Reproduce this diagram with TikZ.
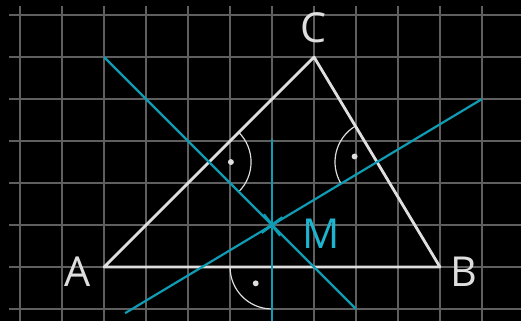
\documentclass[tikz,border=0pt]{standalone}
\usepackage{fontspec}
\setmainfont{Open Sans}
\usepackage{tikz}
\usetikzlibrary{positioning}
\definecolor{gridgray}{RGB}{95,95,95}
\definecolor{sidewhite}{RGB}{222,222,222}
\definecolor{bisteal}{RGB}{14,156,180}
\definecolor{mteal}{RGB}{30,180,207}

\begin{document}
\begin{tikzpicture}[x=1cm, y=1cm,
  gridline/.style={draw=gridgray, line width=1.7pt},
  side/.style={draw=sidewhite, line width=1.9pt, line join=round},
  bisec/.style={draw=bisteal, line width=1.5pt},
  rightarc/.style={draw=sidewhite, line width=0.8pt},
  lbl/.style={font=\fontsize{28}{30}\selectfont, text=sidewhite, inner sep=0pt}]
\fill[black] (-2.48,-1.29) rectangle (9.93,6.36);
\useasboundingbox (-2.48,-1.29) rectangle (9.93,6.36);
% grid
\foreach \y in {-1,...,6}
  \draw[gridline] (-2.26,\y) -- (9.93,\y);
\foreach \x in {-2,...,9}
  \draw[gridline] (\x,6.21) -- (\x,-1.29);
% points
\coordinate (A) at (0,0);
\coordinate (B) at (8,0);
\coordinate (C) at (5,5);
\coordinate (M) at (4,1);
\coordinate (mAB) at (4,0);
\coordinate (mAC) at (2.5,2.5);
\coordinate (mBC) at (6.5,2.5);
\coordinate (ab1) at (4,3.05);
\coordinate (ab2) at (4,-1.29);
\coordinate (ac1) at (0,5);
\coordinate (ac2) at (6,-1);
\coordinate (bc1) at (0.5,-1.1);
\coordinate (bc2) at (9,4);
% triangle
\draw[side] (A) -- (B) -- (C) -- cycle;
% right angle marks
\draw[rightarc] (mAB) ++(180:1) arc[start angle=180, end angle=270, radius=1];
\fill[sidewhite] (mAB) ++(225:0.55) circle (2pt);
\draw[rightarc] (mAC) ++(45:1) arc[start angle=45, end angle=-45, radius=1];
\fill[sidewhite] (mAC) ++(0:0.52) circle (2pt);
\draw[rightarc] (mBC) ++(121:1) arc[start angle=121, end angle=211, radius=1];
\fill[sidewhite] (mBC) ++(166:0.55) circle (2pt);
% perpendicular bisectors
\draw[bisec] (ab1) -- (ab2);
\draw[bisec] (ac1) -- (ac2);
\draw[bisec] (bc1) -- (bc2);
\draw[bisec, line width=2pt] (M) ++(-0.2,0.25) -- ++(0.4,-0.5);
\draw[bisec, line width=2pt] (M) ++(-0.25,-0.18) -- ++(0.5,0.36);
% labels
\node[lbl] (labA) at (-0.64,-0.12) {A};
\node[lbl] (labB) at (8.57,-0.12) {B};
\node[lbl] (labC) at (4.98,5.7) {C};
\node[lbl, text=mteal] (labM) at (5.17,0.8) {M};
\end{tikzpicture}
\end{document}
